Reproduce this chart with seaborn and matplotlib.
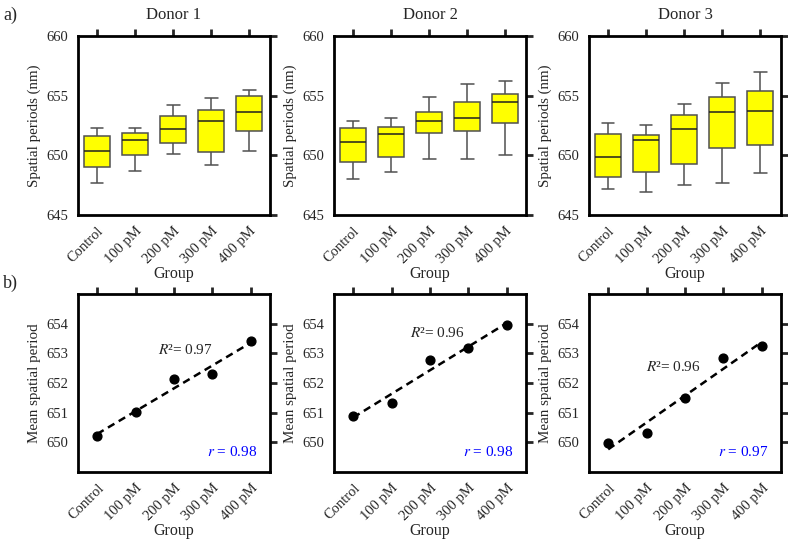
"""Spatial period per donor: box plots and mean trend."""

import matplotlib

matplotlib.use("Agg")

import matplotlib.pyplot as plt
import numpy as np
import pandas as pd
import seaborn as sns

GROUPS = ["Control", "100 pM", "200 pM", "300 pM", "400 pM"]
DONORS = ["Donor 1", "Donor 2", "Donor 3"]

# five-number summaries (min, Q1, median, Q3, max) per group
DONOR1_BOX = [
    [647.7, 649.0, 650.4, 651.6, 652.3],
    [648.7, 650.0, 651.3, 651.9, 652.3],
    [650.1, 651.0, 652.2, 653.3, 654.2],
    [649.2, 650.3, 652.9, 653.8, 654.8],
    [650.4, 652.0, 653.6, 655.0, 655.5],
]
DONOR2_BOX = [
    [648.0, 649.4, 651.1, 652.3, 652.9],
    [648.6, 649.9, 651.8, 652.4, 653.1],
    [649.7, 651.9, 652.9, 653.6, 654.9],
    [649.7, 652.0, 653.1, 654.5, 656.0],
    [650.0, 652.7, 654.5, 655.1, 656.2],
]
DONOR3_BOX = [
    [647.2, 648.2, 649.9, 651.8, 652.7],
    [646.9, 648.6, 651.3, 651.7, 652.5],
    [647.5, 649.3, 652.2, 653.4, 654.3],
    [647.7, 650.6, 653.6, 654.9, 656.1],
    [648.5, 650.9, 653.7, 655.4, 657.0],
]

DONOR1_MEAN = [650.22, 651.01, 652.15, 652.30, 653.42]
DONOR2_MEAN = [650.90, 651.33, 652.79, 653.17, 653.96]
DONOR3_MEAN = [649.99, 650.30, 651.49, 652.85, 653.24]

R_SQUARED = ["0.97", "0.96", "0.96"]
R_VALUES = ["0.98", "0.98", "0.97"]


def style_axis(axis):
    for spine in axis.spines.values():
        spine.set_linewidth(2)
        spine.set_color("black")
    axis.tick_params(direction="out", length=5, width=2, top=True, right=True,
                     labelsize=10.5, pad=2)
    axis.set_xticks(range(len(GROUPS)))
    axis.set_xticklabels(GROUPS, rotation=45, ha="right", rotation_mode="anchor")


def plot_boxes(axis, boxes, title):
    frame = pd.DataFrame(
        [(group, value) for group, row in zip(GROUPS, boxes) for value in row],
        columns=["Group", "period"],
    )
    sns.boxplot(
        data=frame, x="Group", y="period", order=GROUPS, ax=axis,
        color="#ffff00", linecolor="#505050", linewidth=1.1, width=0.68,
        whis=(0, 100), saturation=1, fliersize=0,
        medianprops={"color": "#202020"},
    )
    style_axis(axis)
    axis.set_xlim(-0.5, 4.55)
    axis.set_ylim(645, 660)
    axis.set_yticks([645, 650, 655, 660])
    axis.set_title(title, fontsize=12, pad=12)
    axis.set_xlabel("Group", fontsize=11.5, labelpad=0)
    axis.set_ylabel("Spatial periods (nm)", fontsize=10.8, labelpad=4)


def plot_means(axis, means, r2, r_value, r2_pos):
    positions = np.arange(len(GROUPS))
    sns.regplot(
        x=positions, y=means, ax=axis, ci=None, color="black",
        scatter_kws={"s": 40, "alpha": 1, "zorder": 3},
        line_kws={"linestyle": (0, (3, 2)), "linewidth": 1.8},
    )
    style_axis(axis)
    axis.set_xlim(-0.5, 4.5)
    axis.set_ylim(649, 655)
    axis.set_yticks([650, 651, 652, 653, 654])
    axis.set_xlabel("Group", fontsize=11.5, labelpad=0)
    axis.set_ylabel("Mean spatial period", fontsize=10.8, labelpad=4)
    axis.text(r2_pos[0], r2_pos[1], f"$R$\u00b2= {r2}", ha="center",
              va="center", fontsize=11)
    axis.text(0.935, 0.11, f"$r$ = {r_value}", color="blue", ha="right",
              va="center", fontsize=11, transform=axis.transAxes)


def main():
    sns.set_style("white")
    plt.rcParams["font.family"] = ["Liberation Serif", "DejaVu Serif"]
    plt.rcParams["mathtext.fontset"] = "stix"

    fig = plt.figure(figsize=(7.88, 5.41), dpi=100)
    width, height = 788, 541
    lefts = [78, 334, 589]
    axis_w = 192

    boxes = [DONOR1_BOX, DONOR2_BOX, DONOR3_BOX]
    means = [DONOR1_MEAN, DONOR2_MEAN, DONOR3_MEAN]
    r2_positions = [(2.3, 653.1), (2.2, 653.7), (1.7, 652.55)]

    for i, left in enumerate(lefts):
        top_axis = fig.add_axes([left / width, 1 - 215 / height,
                                 axis_w / width, 179 / height])
        plot_boxes(top_axis, boxes[i], DONORS[i])
        bottom_axis = fig.add_axes([left / width, 1 - 472 / height,
                                    axis_w / width, 178 / height])
        plot_means(bottom_axis, means[i], R_SQUARED[i], R_VALUES[i],
                   r2_positions[i])

    fig.text(3 / width, 1 - 15 / height, "a)", fontsize=13, va="center")
    fig.text(3 / width, 1 - 283 / height, "b)", fontsize=13, va="center")
    fig.savefig("out.png", dpi=100)
    plt.close(fig)


if __name__ == "__main__":
    main()
